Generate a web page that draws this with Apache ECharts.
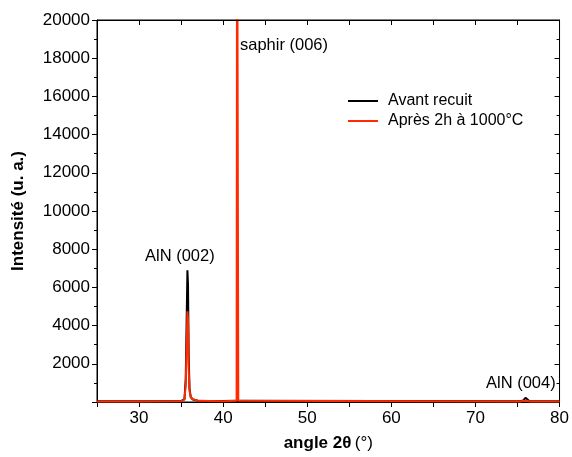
<!DOCTYPE html>
<html><head><meta charset="utf-8">
<script src="https://cdn.jsdelivr.net/npm/echarts@6/dist/echarts.min.js"></script>
<style>html,body{margin:0;padding:0;background:#fff}#c{width:572px;height:457px}</style>
</head><body><div id="c"></div>
<script>
const blackAngles = [25, 30, 35.0, 35.4, 35.55, 35.65, 35.75, 35.82, 35.9, 36.0, 36.15, 36.4, 37, 40, 41.5, 75.3, 75.7, 75.85, 75.95, 76.1, 76.4, 80];
const blackValues = [40, 40, 50, 150, 1200, 4000, 6900, 6200, 2500, 700, 250, 130, 70, 50, 60, 40, 80, 180, 220, 120, 50, 40];
const redAngles = [25, 30, 35.0, 35.4, 35.55, 35.65, 35.75, 35.82, 35.9, 36.0, 36.15, 36.4, 37, 40, 41.6, 41.66, 41.74, 41.8, 75.3, 75.7, 75.9, 76.1, 76.5, 80];
const redValues = [30, 30, 40, 120, 900, 2800, 4750, 4300, 1800, 600, 250, 150, 60, 40, 60, 30000, 30000, 60, 30, 60, 100, 60, 30, 30];
const seriesNames = ['Avant recuit', 'Après 2h à 1000°C'];
const yTicks = [2000, 4000, 6000, 8000, 10000, 12000, 14000, 16000, 18000, 20000];
const xTicks = [30, 40, 50, 60, 70, 80];
const yMax = 20000;

const toPairs = (a, v) => a.map((x, i) => [x, v[i]]);
const font = 'Liberation Sans, Arial, sans-serif';
const chart = echarts.init(document.getElementById('c'));
chart.setOption({
  animation: false,
  grid: {left: 97, right: 7, top: 20, bottom: 50, show: true, borderColor: '#000', borderWidth: 1, backgroundColor: 'transparent'},
  xAxis: [{
    type: 'value', min: 25, max: 80, interval: 5,
    axisLine: {onZero: false, lineStyle: {color: '#000', width: 1}},
    axisTick: {length: 5, lineStyle: {color: '#000'}},
    axisLabel: {color: '#000', fontSize: 17, fontFamily: font, margin: 8,
      formatter: v => xTicks.includes(v) ? String(v) : ''},
    splitLine: {show: false},
    name: '{b|angle 2θ} {n|(°)}', nameLocation: 'middle', nameGap: 33,
    nameTextStyle: {rich: {b: {fontWeight: 'bold', fontSize: 17, fontFamily: font, color: '#000'},
      n: {fontSize: 17, fontFamily: font, color: '#000'}}}
  }, {
    type: 'value', min: 25, max: 80, interval: 5, position: 'top', gridIndex: 0,
    axisLine: {show: true, onZero: false, lineStyle: {color: '#000', width: 1}},
    axisTick: {show: true, inside: true, length: 5, lineStyle: {color: '#000'}},
    axisLabel: {show: false}, splitLine: {show: false}
  }],
  yAxis: [{
    type: 'value', min: 0, max: yMax, interval: 2000,
    axisLine: {show: true, onZero: false, lineStyle: {color: '#000', width: 1}},
    axisTick: {length: 5, lineStyle: {color: '#000'}},
    minorTick: {show: true, splitNumber: 2, length: 3, lineStyle: {color: '#000'}},
    axisLabel: {color: '#000', fontSize: 17, fontFamily: font, margin: 7,
      formatter: v => yTicks.includes(v) ? String(v) : ''},
    splitLine: {show: false},
    name: 'Intensité (u. a.)', nameLocation: 'middle', nameGap: 70,
    nameTextStyle: {fontWeight: 'bold', fontSize: 17, fontFamily: font, color: '#000'}
  }, {
    type: 'value', min: 0, max: yMax, interval: 2000, position: 'right',
    axisLine: {show: true, onZero: false, lineStyle: {color: '#000', width: 1}},
    axisTick: {inside: true, length: 5, lineStyle: {color: '#000'}},
    minorTick: {show: true, splitNumber: 2, length: 3, lineStyle: {color: '#000'}},
    axisLabel: {show: false}, splitLine: {show: false}
  }],
  legend: {
    left: 343, top: 88, orient: 'vertical', itemGap: 4,
    itemWidth: 30, itemHeight: 16, icon: 'path://M0,7 L30,7 L30,9 L0,9 Z',
    textStyle: {fontSize: 16, fontFamily: font, color: '#000', padding: [0, 0, 0, 5]},
    data: seriesNames
  },
  series: [{
    name: seriesNames[0], type: 'line', showSymbol: false, symbol: 'none',
    lineStyle: {color: '#000', width: 2}, itemStyle: {color: '#000'},
    data: toPairs(blackAngles, blackValues), clip: true
  }, {
    name: seriesNames[1], type: 'line', showSymbol: false, symbol: 'none',
    lineStyle: {color: '#ff2a00', width: 2}, itemStyle: {color: '#ff2a00'},
    data: toPairs(redAngles, redValues), clip: true
  }, {
    type: 'line', xAxisIndex: 1, yAxisIndex: 1, data: [], silent: true, clip: false, z: 5,
    markLine: {silent: true, symbol: 'none', label: {show: false},
      lineStyle: {color: '#000', width: 1, type: 'solid'},
      data: [{yAxis: yMax}]}
  }],
  graphic: [
    {type: 'text', left: 145, top: 248, style: {text: 'AlN (002)', fontSize: 16.5, fontFamily: font, fill: '#000'}},
    {type: 'text', left: 240, top: 37, style: {text: 'saphir (006)', fontSize: 16.5, fontFamily: font, fill: '#000'}},
    {type: 'text', left: 486, top: 375, style: {text: 'AlN (004)', fontSize: 16.5, fontFamily: font, fill: '#000'}}
  ]
});
</script></body></html>
